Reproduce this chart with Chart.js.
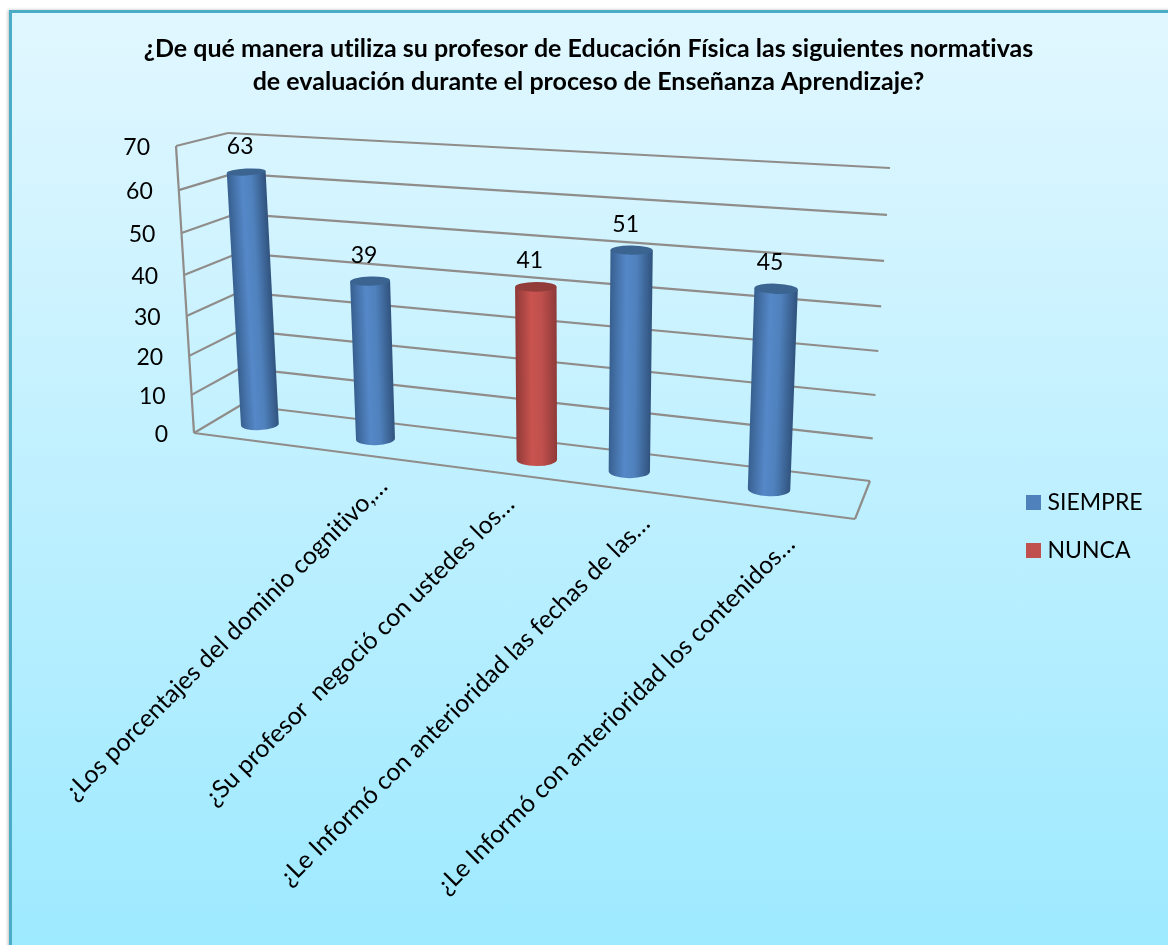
<!DOCTYPE html>
<html lang="es">
<head>
<meta charset="utf-8">
<title>Normativas de evaluación</title>
<script src="https://cdn.jsdelivr.net/npm/chart.js@4"></script>
<style>
  html, body { margin: 0; height: 100%; background: #fff; overflow: hidden; }
  #panel {
    position: absolute; left: 9px; top: 10px; width: 1180px; height: 960px;
    box-sizing: border-box; border: 3px solid #4bacc6;
    background: linear-gradient(#e1f7ff, #9ce9ff);
    box-shadow: -1px 0 3px rgba(0,0,0,0.25);
  }
  #chart { position: absolute; left: 0; top: 0; }
</style>
</head>
<body>
<div id="panel"></div>
<canvas id="chart" width="1168" height="945"></canvas>
<script>
const categories = [
  '',
  '¿Los porcentajes del dominio cognitivo,…',
  '¿Su profesor  negoció con ustedes los…',
  '¿Le Informó con anterioridad las fechas de las…',
  '¿Le Informó con anterioridad los contenidos…'
];
const siempre = [63, 39, null, 51, 45];
const nunca = [null, null, 41, null, null];
const titleLines = [
  '¿De qué manera utiliza su profesor de Educación Física las siguientes normativas',
  'de evaluación durante el proceso de Enseñanza Aprendizaje?'
];

Chart.defaults.font.family = 'Lato, Carlito, sans-serif';
Chart.defaults.color = '#000';

// Corners of the 3D box as seen on screen
const box = {
  frontBottom: [194, 433], frontTop: [176, 146],
  backBottom: [241, 405], backTop: [228, 133],
  rightBottom: [870, 481], rightTop: [890, 168],
  rightFront: [855, 519],
  midPlane: [[221, 419.5], [865, 501.5], [882, 176.5], [204, 140.5]]
};
const gridColor = '#8f8c8a';
const shades = {
  SIEMPRE: { edgeL: '#375f8f', mid: '#5588c8', mid2: '#4f81bd', edgeR: '#30527c', top: '#3b6491' },
  NUNCA: { edgeL: '#8e3a38', mid: '#c9534f', mid2: '#c0504d', edgeR: '#8e3a38', top: '#923d3a' }
};

// Projective map of the unit square onto a quad (p00, p10, p11, p01)
function quadMap(p0, p1, p2, p3) {
  const dx1 = p1[0] - p2[0], dx2 = p3[0] - p2[0], sx = p0[0] - p1[0] + p2[0] - p3[0];
  const dy1 = p1[1] - p2[1], dy2 = p3[1] - p2[1], sy = p0[1] - p1[1] + p2[1] - p3[1];
  const den = dx1 * dy2 - dx2 * dy1;
  const g = (sx * dy2 - dx2 * sy) / den, h = (dx1 * sy - sx * dy1) / den;
  const a = p1[0] - p0[0] + g * p1[0], b = p3[0] - p0[0] + h * p3[0];
  const d = p1[1] - p0[1] + g * p1[1], e = p3[1] - p0[1] + h * p3[1];
  return (u, v) => {
    const w = g * u + h * v + 1;
    return [(a * u + b * v + p0[0]) / w, (d * u + e * v + p0[1]) / w];
  };
}

const backWall = quadMap(box.backBottom, box.rightBottom, box.rightTop, box.backTop);
const sideWall = quadMap(box.frontBottom, box.backBottom, box.backTop, box.frontTop);
const midPlane = quadMap(...box.midPlane);

function segment(ctx, a, b) {
  ctx.beginPath();
  ctx.moveTo(a[0], a[1]);
  ctx.lineTo(b[0], b[1]);
  ctx.stroke();
}

function drawWalls(ctx, yScale) {
  const H = yScale.max - yScale.min;
  ctx.strokeStyle = gridColor;
  ctx.lineWidth = 2.2;
  yScale.ticks.forEach(t => {
    const v = (t.value - yScale.min) / H;
    segment(ctx, sideWall(0, v), sideWall(1, v));
    segment(ctx, backWall(0, v), backWall(1, v));
  });
  segment(ctx, box.frontBottom, box.frontTop);
  segment(ctx, box.frontBottom, box.rightFront);
  segment(ctx, box.rightFront, box.rightBottom);
}

function drawCylinder(ctx, el, area, c) {
  const W = area.right - area.left, H = area.bottom - area.top;
  const uc = (el.x - area.left) / W;
  const vt = (area.bottom - el.y) / H, vb = (area.bottom - el.base) / H;
  const bc = midPlane(uc, vb), tc = midPlane(uc, vt);
  // radius grows gently towards the near (right) side of the box
  const rb = el.width / W * 330 * (0.875 + 0.135 * uc);
  const rt = rb + 0.5;
  // cross section stays perpendicular to the leaning axis
  const rot = Math.atan2(bc[0] - tc[0], bc[1] - tc[1]) * -1;
  const px = Math.cos(rot), py = Math.sin(rot);
  const flat = y => 0.1 + y * 0.00047;

  const g = ctx.createLinearGradient(tc[0] - rt * px, tc[1] - rt * py, tc[0] + rt * px, tc[1] + rt * py);
  g.addColorStop(0, c.edgeL);
  g.addColorStop(0.38, c.mid);
  g.addColorStop(0.62, c.mid2);
  g.addColorStop(1, c.edgeR);

  ctx.fillStyle = g;
  ctx.beginPath();
  ctx.moveTo(tc[0] - rt * px, tc[1] - rt * py);
  ctx.lineTo(bc[0] - rb * px, bc[1] - rb * py);
  ctx.ellipse(bc[0], bc[1], rb, rb * flat(bc[1]), rot, Math.PI, 0, true);
  ctx.lineTo(tc[0] + rt * px, tc[1] + rt * py);
  ctx.closePath();
  ctx.fill();

  ctx.fillStyle = c.top;
  ctx.beginPath();
  ctx.ellipse(tc[0], tc[1], rt, rt * flat(tc[1]), rot, 0, Math.PI * 2);
  ctx.fill();
  return tc;
}

const boxView = {
  id: 'boxView',
  // a tiny spacing keeps Lato from joining "ti" into a ligature
  beforeDraw(chart) {
    chart.ctx.letterSpacing = '0.01px';
  },
  // legend sits lower and further left than the default right-hand slot
  afterLayout(chart) {
    const lg = chart.legend;
    const w = lg.right - lg.left, h = lg.bottom - lg.top;
    lg.left = 1006;
    lg.right = lg.left + w;
    lg.top += 54;
    lg.bottom = lg.top + h;
  },
  beforeDatasetsDraw(chart) {
    const { ctx, chartArea: area, scales } = chart;
    const yScale = scales.y, xScale = scales.x;
    const W = area.right - area.left;
    ctx.save();
    drawWalls(ctx, yScale);

    const tops = [];
    chart.data.datasets.forEach((ds, i) => {
      chart.getDatasetMeta(i).data.forEach((el, j) => {
        if (ds.data[j] == null) return;
        const tc = drawCylinder(ctx, el, area, shades[ds.label]);
        tops.push([tc, ds.data[j]]);
      });
    });

    ctx.fillStyle = '#000';
    ctx.textBaseline = 'middle';
    ctx.font = '23px Lato';

    // value labels
    ctx.textAlign = 'center';
    tops.forEach(([tc, val]) => ctx.fillText(val, tc[0] - 6, tc[1] - 26));

    // value axis labels along the front edge of the side wall
    ctx.textAlign = 'right';
    yScale.ticks.forEach(t => {
      const p = sideWall(0, (t.value - yScale.min) / (yScale.max - yScale.min));
      ctx.fillText(t.label, p[0] - 26, p[1] + 2);
    });

    // category labels hang from the front edge at 45 degrees
    ctx.font = '24.8px Lato';
    categories.forEach((label, i) => {
      const u = (xScale.getPixelForValue(i) - area.left) / W;
      const k = 0.85, w = (1 - u) + k * u;
      const x = ((1 - u) * 212 + k * u * 872) / w;
      const y = ((1 - u) * 457 + k * u * 551) / w;
      ctx.save();
      ctx.translate(x - 5, y);
      ctx.rotate(-Math.PI / 4);
      ctx.fillText(label, 0, 0);
      ctx.restore();
    });
    ctx.restore();
    return false;
  }
};

new Chart(document.getElementById('chart'), {
  type: 'bar',
  data: {
    labels: categories,
    datasets: [
      { label: 'SIEMPRE', data: siempre, backgroundColor: '#4f81bd', categoryPercentage: 0.6, barPercentage: 1.08 },
      { label: 'NUNCA', data: nunca, backgroundColor: '#c0504d', categoryPercentage: 0.6, barPercentage: 1.08 }
    ]
  },
  options: {
    responsive: false,
    animation: false,
    layout: { padding: { left: 9 } },
    scales: {
      x: { display: false, ticks: { autoSkip: false } },
      y: { display: false, min: 0, max: 70, ticks: { stepSize: 10 } }
    },
    plugins: {
      title: {
        display: true,
        text: titleLines,
        color: '#000',
        font: { size: 25, weight: 'bold', lineHeight: 1.3 },
        padding: { top: 33, bottom: 10 }
      },
      legend: {
        position: 'right',
        labels: {
          boxWidth: 5, boxHeight: 5, padding: 25,
          color: '#000',
          font: { size: 23 },
          // thick outline around a small box brings the text closer to the swatch
          generateLabels(chart) {
            return Chart.defaults.plugins.legend.labels.generateLabels(chart).map(item => ({
              ...item, lineWidth: 10, strokeStyle: item.fillStyle
            }));
          }
        }
      },
      tooltip: { enabled: false }
    }
  },
  plugins: [boxView]
});
</script>
</body>
</html>
